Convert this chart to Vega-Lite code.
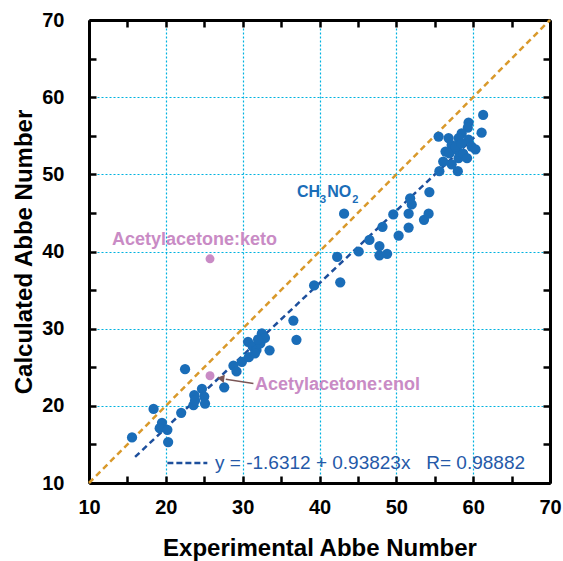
{
  "$schema": "https://vega.github.io/schema/vega-lite/v6.json",
  "width": 461,
  "height": 463,
  "autosize": {"type": "none"},
  "padding": {"left": 89, "top": 20, "right": 13, "bottom": 78},
  "background": "white",
  "config": {"view": {"stroke": null}},
  "datasets": {
    "diag": [{"x": 10, "y": 10}, {"x": 70, "y": 70}],
    "fit": [{"x": 16, "y": 13.38}, {"x": 61, "y": 55.6}],
    "pts": [
      {"exp": 15.6, "calc": 15.9}, {"exp": 18.4, "calc": 19.6}, {"exp": 19.5, "calc": 17.8}, {"exp": 19.2, "calc": 17.1},
      {"exp": 20.2, "calc": 16.9}, {"exp": 20.3, "calc": 15.3}, {"exp": 22.0, "calc": 19.1}, {"exp": 22.5, "calc": 24.75},
      {"exp": 23.6, "calc": 20.1}, {"exp": 23.7, "calc": 21.4}, {"exp": 23.8, "calc": 20.7}, {"exp": 24.7, "calc": 22.2},
      {"exp": 25.0, "calc": 21.2}, {"exp": 25.1, "calc": 20.3}, {"exp": 27.6, "calc": 22.4}, {"exp": 28.8, "calc": 25.2},
      {"exp": 29.2, "calc": 24.45}, {"exp": 29.9, "calc": 25.7}, {"exp": 30.7, "calc": 28.3}, {"exp": 30.8, "calc": 26.3},
      {"exp": 31.3, "calc": 27.7}, {"exp": 31.8, "calc": 27.25}, {"exp": 32.3, "calc": 28.1}, {"exp": 32.5, "calc": 29.4},
      {"exp": 32.9, "calc": 28.8}, {"exp": 33.5, "calc": 27.2}, {"exp": 31.6, "calc": 26.8}, {"exp": 32.0, "calc": 28.6},
      {"exp": 36.6, "calc": 31.05}, {"exp": 37.0, "calc": 28.55}, {"exp": 39.3, "calc": 35.6}, {"exp": 42.3, "calc": 39.3},
      {"exp": 42.7, "calc": 36.0}, {"exp": 43.2, "calc": 44.9}, {"exp": 45.1, "calc": 40.0}, {"exp": 46.5, "calc": 41.5},
      {"exp": 47.8, "calc": 40.7}, {"exp": 47.8, "calc": 39.5}, {"exp": 48.8, "calc": 39.7}, {"exp": 48.2, "calc": 43.2},
      {"exp": 50.3, "calc": 42.05}, {"exp": 49.6, "calc": 44.8}, {"exp": 51.6, "calc": 44.9}, {"exp": 51.6, "calc": 43.1},
      {"exp": 52.0, "calc": 46.1}, {"exp": 51.8, "calc": 46.9}, {"exp": 53.6, "calc": 44.1}, {"exp": 54.2, "calc": 44.9},
      {"exp": 54.3, "calc": 47.7}, {"exp": 55.6, "calc": 50.4}, {"exp": 58.0, "calc": 50.4}, {"exp": 55.5, "calc": 54.9},
      {"exp": 61.3, "calc": 57.7}, {"exp": 61.1, "calc": 55.4}, {"exp": 59.4, "calc": 56.7}, {"exp": 59.3, "calc": 56.05},
      {"exp": 58.5, "calc": 55.3}, {"exp": 58.1, "calc": 54.7}, {"exp": 56.8, "calc": 54.7}, {"exp": 57.2, "calc": 53.8},
      {"exp": 59.4, "calc": 54.5}, {"exp": 59.8, "calc": 53.6}, {"exp": 60.3, "calc": 53.25}, {"exp": 56.4, "calc": 52.95},
      {"exp": 56.9, "calc": 52.7}, {"exp": 57.9, "calc": 53.2}, {"exp": 56.1, "calc": 51.65}, {"exp": 58.1, "calc": 52.1},
      {"exp": 58.7, "calc": 52.7}, {"exp": 59.2, "calc": 52.1}, {"exp": 57.2, "calc": 51.3}, {"exp": 57.7, "calc": 53.6},
      {"exp": 58.5, "calc": 54.0}
    ],
    "pink": [{"exp": 25.75, "calc": 39.05}, {"exp": 25.75, "calc": 23.9}]
  },
  "resolve": {"axis": {"x": "independent", "y": "independent"}},
  "layer": [
    {
      "data": {"name": "diag"},
      "mark": {"type": "line", "color": "#d9992b", "strokeWidth": 2.5, "strokeDash": [6, 4]},
      "encoding": {
        "x": {"field": "x", "type": "quantitative", "scale": {"domain": [10, 70], "nice": false, "zero": false},
          "axis": {"orient": "top", "values": [10, 15, 20, 25, 30, 35, 40, 45, 50, 55, 60, 65, 70], "labels": false, "title": null, "grid": false,
            "tickSize": -7, "tickWidth": 2.5, "tickColor": "black", "domainColor": "black", "domainWidth": 3}},
        "y": {"field": "y", "type": "quantitative", "scale": {"domain": [10, 70], "nice": false, "zero": false},
          "axis": {"orient": "right", "values": [10, 15, 20, 25, 30, 35, 40, 45, 50, 55, 60, 65, 70], "labels": false, "title": null, "grid": false,
            "tickSize": -7, "tickWidth": 2.5, "tickColor": "black", "domainColor": "black", "domainWidth": 3}}
      }
    },
    {
      "data": {"name": "fit"},
      "mark": {"type": "line", "color": "#1d4f9c", "strokeWidth": 2.5, "strokeDash": [6, 4]},
      "encoding": {
        "x": {"field": "x", "type": "quantitative",
          "axis": {"orient": "bottom", "values": [10, 15, 20, 25, 30, 35, 40, 45, 50, 55, 60, 65, 70],
            "labelExpr": "datum.value % 10 === 0 ? datum.label : ''",
            "tickSize": -7, "tickWidth": 2.5, "tickColor": "black", "domainColor": "black", "domainWidth": 3,
            "grid": true, "gridColor": "#00b2e0", "gridDash": [2, 2], "gridWidth": 1.2,
            "gridOpacity": {"condition": {"test": "datum.value % 10 !== 0 || datum.value === 10 || datum.value === 70", "value": 0}, "value": 1},
            "labelFont": "Liberation Sans", "labelFontWeight": "bold", "labelFontSize": 20, "labelColor": "black", "labelPadding": 21,
            "labelFlush": false,
            "title": "Experimental Abbe Number", "titleFont": "Liberation Sans", "titleFontWeight": "bold", "titleFontSize": 24,
            "titleColor": "black", "titlePadding": 19}},
        "y": {"field": "y", "type": "quantitative",
          "axis": {"orient": "left", "values": [10, 15, 20, 25, 30, 35, 40, 45, 50, 55, 60, 65, 70],
            "labelExpr": "datum.value % 10 === 0 ? datum.label : ''",
            "tickSize": -7, "tickWidth": 2.5, "tickColor": "black", "domainColor": "black", "domainWidth": 3,
            "grid": true, "gridColor": "#00b2e0", "gridDash": [2, 2], "gridWidth": 1.2,
            "gridOpacity": {"condition": {"test": "datum.value % 10 !== 0 || datum.value === 10 || datum.value === 70", "value": 0}, "value": 1},
            "labelFont": "Liberation Sans", "labelFontWeight": "bold", "labelFontSize": 20, "labelColor": "black", "labelPadding": 32,
            "labelFlush": false,
            "title": "Calculated Abbe Number", "titleFont": "Liberation Sans", "titleFontWeight": "bold", "titleFontSize": 24,
            "titleColor": "black", "titlePadding": 5}}
      }
    },
    {
      "data": {"name": "pts"},
      "mark": {"type": "circle", "color": "#1a6db8", "opacity": 1, "size": 105},
      "encoding": {
        "x": {"field": "exp", "type": "quantitative", "axis": null},
        "y": {"field": "calc", "type": "quantitative", "axis": null}
      }
    },
    {
      "data": {"name": "pink"},
      "mark": {"type": "circle", "color": "#c98bc5", "opacity": 1, "size": 80},
      "encoding": {
        "x": {"field": "exp", "type": "quantitative", "axis": null},
        "y": {"field": "calc", "type": "quantitative", "axis": null}
      }
    },
    {
      "data": {"values": [{"x": 31.4, "y": 22.9, "x2": 27.8, "y2": 23.45}]},
      "mark": {"type": "rule", "color": "#7a5656", "strokeWidth": 1.5},
      "encoding": {
        "x": {"field": "x", "type": "quantitative", "axis": null},
        "y": {"field": "y", "type": "quantitative", "axis": null},
        "x2": {"field": "x2"},
        "y2": {"field": "y2"}
      }
    },
    {
      "data": {"values": [{"x": 27.3, "y": 23.55}]},
      "mark": {"type": "point", "shape": "triangle", "filled": true, "color": "#7a5656", "opacity": 1, "size": 70, "angle": 278},
      "encoding": {
        "x": {"field": "x", "type": "quantitative", "axis": null},
        "y": {"field": "y", "type": "quantitative", "axis": null}
      }
    },
    {
      "data": {"values": [{"x": 20.2, "y": 12.6, "x2": 25.4}]},
      "mark": {"type": "rule", "color": "#1d4f9c", "strokeWidth": 2.5, "strokeDash": [6, 3]},
      "encoding": {
        "x": {"field": "x", "type": "quantitative", "axis": null},
        "y": {"field": "y", "type": "quantitative", "axis": null},
        "x2": {"field": "x2"}
      }
    },
    {
      "data": {"values": [{"x": 26.4, "y": 12.6, "t": "y = -1.6312 + 0.93823x\u00a0\u00a0\u00a0R= 0.98882"}]},
      "mark": {"type": "text", "align": "left", "baseline": "middle", "font": "Liberation Sans", "fontSize": 19, "color": "#2559a8"},
      "encoding": {
        "x": {"field": "x", "type": "quantitative", "axis": null},
        "y": {"field": "y", "type": "quantitative", "axis": null},
        "text": {"field": "t"}
      }
    },
    {
      "data": {"values": [{"x": 13.0, "y": 41.5, "t": "Acetylacetone:keto"}, {"x": 31.6, "y": 22.7, "t": "Acetylacetone:enol"}]},
      "mark": {"type": "text", "align": "left", "baseline": "middle", "font": "Liberation Sans", "fontWeight": "bold", "fontSize": 18, "color": "#c98bc5"},
      "encoding": {
        "x": {"field": "x", "type": "quantitative", "axis": null},
        "y": {"field": "y", "type": "quantitative", "axis": null},
        "text": {"field": "t"}
      }
    },
    {
      "data": {"values": [{"x": 37.08, "y": 47.7, "t": "CH"}, {"x": 41.0, "y": 47.7, "t": "NO"}]},
      "mark": {"type": "text", "align": "left", "baseline": "middle", "font": "Liberation Sans", "fontWeight": "bold", "fontSize": 16, "color": "#1a6db8"},
      "encoding": {
        "x": {"field": "x", "type": "quantitative", "axis": null},
        "y": {"field": "y", "type": "quantitative", "axis": null},
        "text": {"field": "t"}
      }
    },
    {
      "data": {"values": [{"x": 40.08, "y": 46.7, "t": "3"}, {"x": 44.25, "y": 46.7, "t": "2"}]},
      "mark": {"type": "text", "align": "left", "baseline": "middle", "font": "Liberation Sans", "fontWeight": "bold", "fontSize": 11, "color": "#1a6db8"},
      "encoding": {
        "x": {"field": "x", "type": "quantitative", "axis": null},
        "y": {"field": "y", "type": "quantitative", "axis": null},
        "text": {"field": "t"}
      }
    }
  ]
}
